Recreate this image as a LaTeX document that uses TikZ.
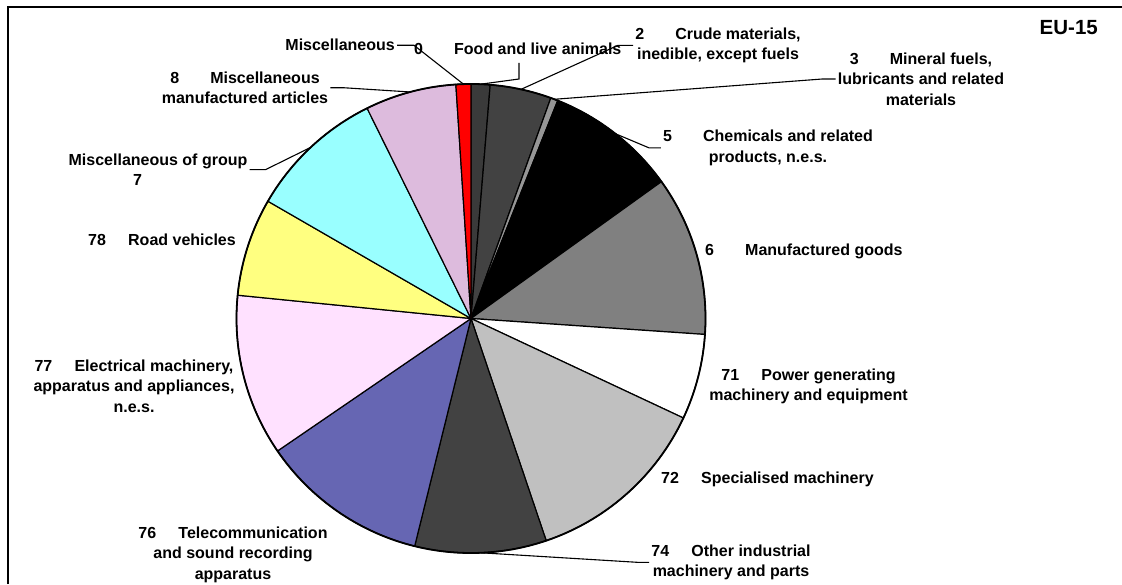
\documentclass[tikz,border=0pt]{standalone}
\usepackage{fontspec}
\setmainfont{Liberation Sans}

\definecolor{cMisc}{HTML}{FF0000}
\definecolor{cFood}{HTML}{3A3A3A}
\definecolor{cCrude}{HTML}{424242}
\definecolor{cMineral}{HTML}{969696}
\definecolor{cChem}{HTML}{000000}
\definecolor{cManuf}{HTML}{808080}
\definecolor{cPower}{HTML}{FFFFFF}
\definecolor{cSpec}{HTML}{C0C0C0}
\definecolor{cOther}{HTML}{424242}
\definecolor{cTele}{HTML}{6666B3}
\definecolor{cElec}{HTML}{FFE1FF}
\definecolor{cRoad}{HTML}{FFFF80}
\definecolor{cGroup}{HTML}{99FFFF}
\definecolor{cArt}{HTML}{DDBBDD}

\newcommand{\code}[1]{\makebox[2.5em][l]{#1}}

\begin{document}
\begin{tikzpicture}[x=1pt,y=1pt,
  label node/.style={font=\fontsize{16}{20.5}\selectfont\bfseries,inner sep=2pt,align=center},
  slice/.style={draw=black,line width=1.2pt},
  leader/.style={draw=black,line width=1.1pt}]

  \useasboundingbox (0,0) rectangle (1122,584);
  \draw[line width=2.4pt] (8,0) -- (8,577) -- (1122,577);

  % pie
  \coordinate (c) at (471,265.5);
  \def\pierad{234.5}
  \foreach \a/\b/\col in {90/85.3/cFood, 85.3/70.1/cCrude, 70.1/68.3/cMineral,
      68.3/35.7/cChem, 35.7/-3.9/cManuf, -3.9/-25.1/cPower, -25.1/-71.3/cSpec,
      -71.3/-103.9/cOther, -103.9/-145.6/cTele, -145.6/-185.7/cElec,
      -185.7/-210/cRoad, -210/-243.7/cGroup, -243.7/-266.3/cArt, -266.3/-270/cMisc}
    \filldraw[slice,fill=\col] (c) -- ++(\a:\pierad) arc[start angle=\a,end angle=\b,radius=\pierad] -- cycle;
  \draw[line width=1.8pt] (c) circle[radius=\pierad];

  \foreach \n/\m in {misc/91.85, food/87.65, crude/77.7, mineral/69.2, chem/52,
      other/-87.6, art/105, group/133.15}
    \path (c) ++(\m:\pierad) coordinate (p-\n);

  % labels
  \node[label node,anchor=base east] (misc) at (397,533) {Miscellaneous};
  \node[label node,anchor=base west] (food) at (412,529) {\code{0}Food and live animals};
  \node[label node,anchor=north] (crude) at (718,558.6) {\code{2}Crude materials,\\inedible, except fuels};
  \node[label node,anchor=north] (mineral) at (921,533.6) {\code{3}Mineral fuels,\\lubricants and related\\materials};
  \node[label node,anchor=north] (chem) at (768,456.1) {\code{5}Chemicals and related\\products, n.e.s.};
  \node[label node,anchor=base west] (manuf) at (703,328) {\code{6}Manufactured goods};
  \node[label node,anchor=north] (power) at (808.5,217.6) {\code{71}Power generating\\machinery and equipment};
  \node[label node,anchor=base west] (spec) at (659,100) {\code{72}Specialised machinery};
  \node[label node,anchor=north] (other) at (731,41.6) {\code{74}Other industrial\\machinery and parts};
  \node[label node,anchor=north] (tele) at (233,59.6) {\code{76}Telecommunication\\and sound recording\\apparatus};
  \node[label node,anchor=north] (elec) at (134,226.6) {\code{77}Electrical machinery,\\apparatus and appliances,\\n.e.s.};
  \node[label node,anchor=base west] (road) at (86,338) {\code{78}Road vehicles};
  \node[label node,anchor=north] (group) at (158,432.6) {Miscellaneous of group\\\hspace*{-41pt}7};
  \node[label node,anchor=north] (art) at (245,514.6) {\code{8}Miscellaneous\\manufactured articles};
  \node[font=\fontsize{20.5}{24}\selectfont\bfseries,anchor=base east,inner sep=0pt] (title) at (1098,549) {EU-15};

  % leader lines
  \coordinate (food-knee) at (519,505);
  \coordinate (food-top) at (519,521);
  \draw[leader] (p-misc) -- ([xshift=17pt]misc.east) -- (misc.east);
  \draw[leader] (p-food) -- (food-knee) -- (food-top);
  \draw[leader] (p-crude) -- ([xshift=-15pt]crude.west) -- (crude.west);
  \draw[leader] (p-mineral) -- ([xshift=-13pt]mineral.west) -- (mineral.west);
  \draw[leader] (p-chem) -- ([xshift=-12pt]chem.west) -- (chem.west);
  \draw[leader] (p-other) -- ([xshift=-12pt]other.west) -- (other.west);
  \draw[leader] (p-art) -- ([xshift=13pt]art.east) -- (art.east);
  \draw[leader] (p-group) -- ([xshift=16pt]group.east) -- (group.east);
\end{tikzpicture}
\end{document}
